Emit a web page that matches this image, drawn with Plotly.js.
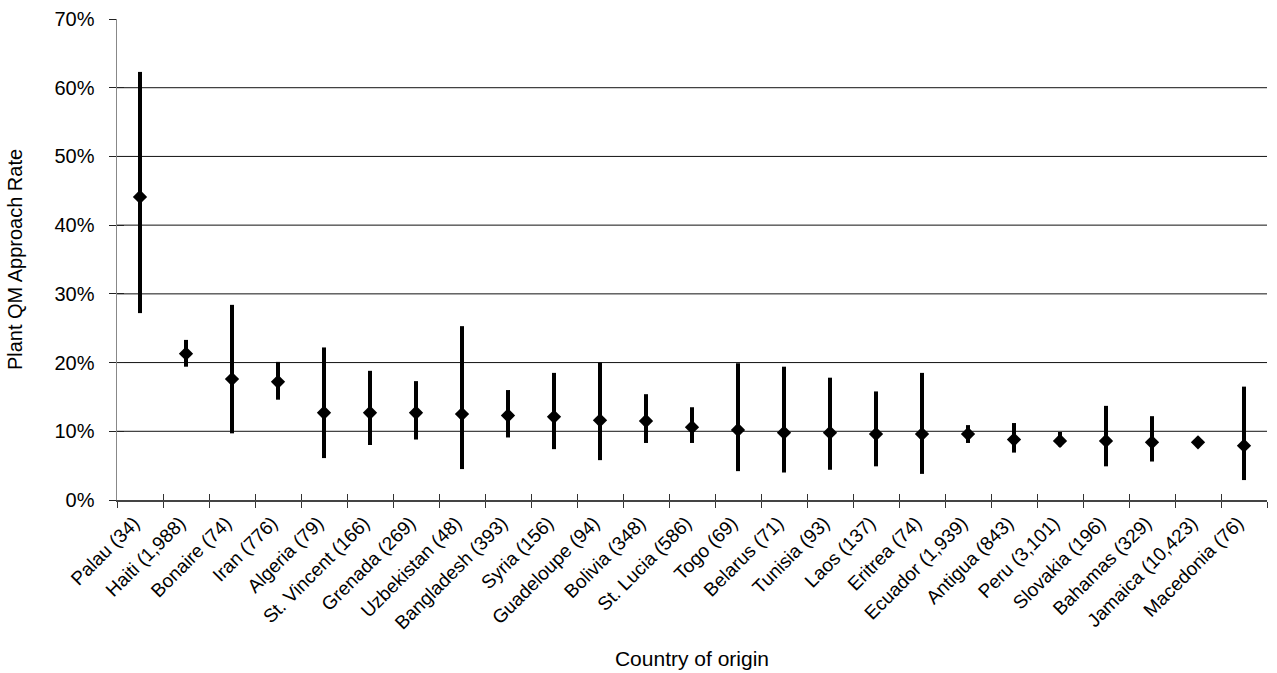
<!DOCTYPE html>
<html>
<head>
<meta charset="utf-8">
<script src="https://cdn.plot.ly/plotly-3.0.1.min.js"></script>
<style>html,body{margin:0;padding:0;background:#fff;}#chart{width:1277px;height:673px;}</style>
</head>
<body>
<div id="chart"></div>
<script>
const labels = ['Palau (34)','Haiti (1,988)','Bonaire (74)','Iran (776)','Algeria (79)','St. Vincent (166)','Grenada (269)','Uzbekistan (48)','Bangladesh (393)','Syria (156)','Guadeloupe (94)','Bolivia (348)','St. Lucia (586)','Togo (69)','Belarus (71)','Tunisia (93)','Laos (137)','Eritrea (74)','Ecuador (1,939)','Antigua (843)','Peru (3,101)','Slovakia (196)','Bahamas (329)','Jamaica (10,423)','Macedonia (76)'];
const rate  = [44.1,21.3,17.6,17.2,12.7,12.7,12.7,12.5,12.3,12.1,11.6,11.5,10.6,10.2,9.8,9.8,9.6,9.6,9.6,8.8,8.6,8.6,8.4,8.4,7.9];
const lower = [27.2,19.4,9.7,14.6,6.1,8.0,8.8,4.5,9.1,7.4,5.8,8.3,8.3,4.2,4.0,4.4,4.9,3.8,8.3,6.9,7.8,4.9,5.6,8.1,2.9];
const upper = [62.3,23.3,28.4,20.1,22.2,18.8,17.3,25.3,16.0,18.5,20.0,15.4,13.5,19.9,19.4,17.8,15.8,18.5,10.9,11.2,9.9,13.7,12.2,8.7,16.5];
const yTicks = [0,10,20,30,40,50,60,70];
const yTickText = ['0%','10%','20%','30%','40%','50%','60%','70%'];

const plus = upper.map((u,i)=>u-rate[i]);
const minus = rate.map((r,i)=>r-lower[i]);

const FONT = 'Liberation Sans, Arial, sans-serif';

const traces = [
  {
    type:'scatter', mode:'markers', x:labels, y:rate,
    marker:{symbol:'diamond', size:11, color:'#000'},
    error_y:{type:'data', symmetric:false, array:plus, arrayminus:minus, color:'#000', thickness:4, width:0},
    hoverinfo:'x+y', showlegend:false
  },
  {
    type:'scatter', mode:'markers', x:labels, y:rate, xaxis:'x2', yaxis:'y2',
    marker:{opacity:0}, hoverinfo:'skip', showlegend:false
  }
];

const grid = yTicks.filter(v=>v>0 && v<70).map(v=>({
  type:'line', xref:'paper', x0:0, x1:1, yref:'y', y0:v, y1:v,
  line:{color:'#111', width:1}, layer:'below'
}));

const layout = {
  width:1277, height:673,
  margin:{l:117, r:10, t:19, b:173},
  paper_bgcolor:'#fff', plot_bgcolor:'#fff',
  font:{family:FONT, size:20, color:'#000'},
  showlegend:false,
  xaxis:{
    type:'category', range:[-0.5,24.5], tickson:'boundaries',
    ticks:'outside', ticklen:6, tickcolor:'#333', tickwidth:1,
    showline:true, linecolor:'#444', linewidth:1.5,
    showgrid:false, zeroline:false, tickangle:-45,
    ticklabelshift:-6, ticklabelstandoff:3,
    tickfont:{family:FONT, size:19, color:'#000'},
    title:{text:'Country of origin', font:{family:FONT, size:21, color:'#000'}, standoff:19},
    automargin:false
  },
  xaxis2:{
    type:'category', overlaying:'x', anchor:'y2', range:[-0.5,24.5], tickson:'boundaries',
    ticks:'inside', ticklen:6, tickcolor:'#333', tickwidth:1,
    showticklabels:false, showline:false, showgrid:false, zeroline:false
  },
  yaxis:{
    range:[0,70], tickmode:'array', tickvals:yTicks, ticktext:yTickText,
    ticks:'outside', ticklen:7, tickcolor:'#222', tickwidth:1,
    showline:true, linecolor:'#888', linewidth:1.5,
    showgrid:false, zeroline:false, ticklabelstandoff:10,
    tickfont:{family:FONT, size:20, color:'#000'},
    title:{text:'Plant QM Approach Rate', font:{family:FONT, size:20, color:'#000'}, standoff:26},
    automargin:false
  },
  yaxis2:{
    range:[0,70], tickvals:yTicks, overlaying:'y', anchor:'x2', side:'left',
    ticks:'inside', ticklen:7, tickcolor:'#222', tickwidth:1,
    showticklabels:false, showline:false, showgrid:false, zeroline:false
  },
  shapes:grid
};

Plotly.newPlot('chart', traces, layout, {displayModeBar:false, staticPlot:true});
</script>
</body>
</html>
